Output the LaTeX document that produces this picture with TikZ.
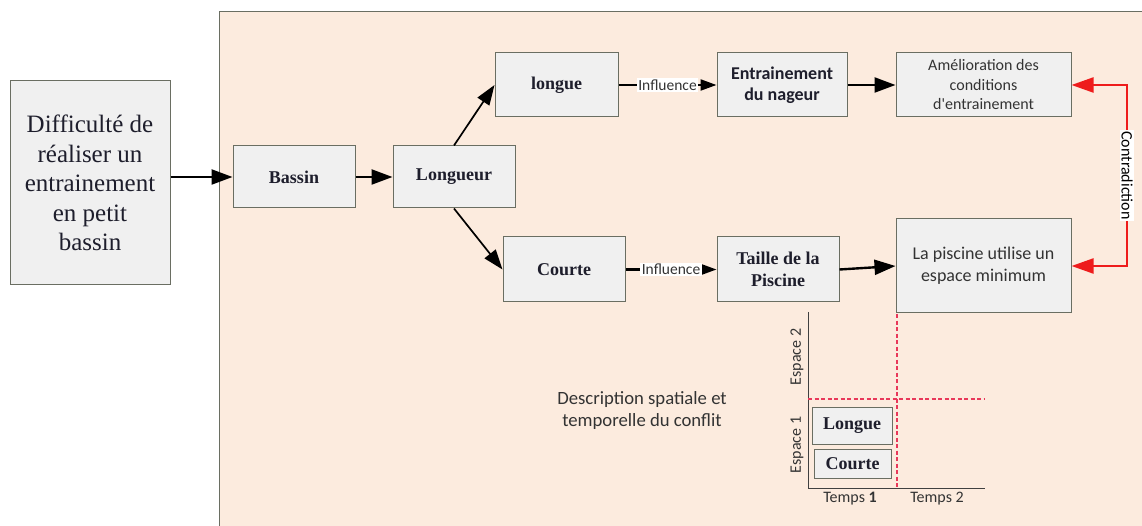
\documentclass[tikz,border=0pt]{standalone}
\usepackage{fontspec}
\setmainfont{Liberation Serif}
\newfontfamily\calib{Carlito}
\usetikzlibrary{arrows.meta}
\definecolor{peach}{HTML}{FCEBDE}
\definecolor{boxfill}{HTML}{F0F0F0}
\definecolor{boxline}{HTML}{6A6E62}
\definecolor{serifink}{HTML}{1E1E2C}
\definecolor{sansink}{HTML}{333333}
\definecolor{contra}{HTML}{EE1C1C}
\definecolor{dashred}{HTML}{E8385A}
\tikzset{
  box/.style={draw=boxline, fill=boxfill, line width=1pt, inner sep=2pt, align=center, text=serifink},
  sbold/.style={font=\fontsize{18}{22}\selectfont\bfseries},
  cbody/.style={font=\calib\fontsize{16}{19.5}\selectfont, text=sansink},
  flow/.style={line width=2.4pt, -{Triangle[length=21pt,width=15pt]}},
  branch/.style={line width=1.7pt, -{Triangle[length=20pt,width=14pt]}},
  infl/.style={line width=2.2pt, -{Triangle[length=16pt,width=11pt]}},
  infllabel/.style={fill=white, inner sep=1.5pt, font=\calib\fontsize{15.5}{18}\selectfont, text=sansink},
  contraline/.style={line width=2.2pt, draw=contra,
    {Triangle[length=22pt,width=15pt]}-{Triangle[length=22pt,width=15pt]}},
  axis/.style={line width=1pt, draw=black!75},
  grid/.style={line width=1.1pt, draw=dashred, dash pattern=on 4pt off 2.5pt},
}
\begin{document}
\begin{tikzpicture}[x=1pt, y=-1pt]
  \useasboundingbox (0,0) rectangle (1142,526);
  % backgrounds
  \fill[white] (0,0) rectangle (1142,526);
  \fill[peach] (219,12) rectangle (1142,526);
  \draw[boxline, line width=1pt] (219,526) -- (219,12) -- (1142,12);

  % left problem statement
  \node[box, minimum width=160pt, minimum height=204pt,
        font=\fontsize{25}{29.5}\selectfont] (diff) at (90,183)
        {Difficult\'e de\\r\'ealiser un\\entrainement\\en petit\\bassin};

  % main chain
  \node[box, sbold, minimum width=122pt, minimum height=62pt] (bassin) at (294,177) {Bassin};
  \node[box, sbold, minimum width=122pt, minimum height=62pt] (longueur) at (454,177) {Longueur};
  \node[box, sbold, minimum width=123pt, minimum height=64pt] (longue) at (556.5,85) {longue};
  \node[box, sbold, minimum width=122pt, minimum height=65pt] (courte) at (564,269.5) {Courte};
  \node[box, minimum width=130pt, minimum height=64pt,
        font=\calib\fontsize{18}{21}\selectfont\bfseries] (entr) at (782,85) {Entrainement\\du nageur};
  \node[box, sbold, minimum width=122pt, minimum height=65pt] (taille) at (778,269.5) {Taille de la\\Piscine};
  \node[box, cbody, minimum width=175pt, minimum height=64pt] (amel) at (983.5,85)
        {Am\'elioration des\\conditions\\d'entrainement};
  \node[box, cbody, font=\calib\fontsize{18}{22}\selectfont, minimum width=175pt, minimum height=94pt] (pisc) at (983.5,266)
        {La piscine utilise un\\espace minimum};

  % connectors
  \draw[flow] (diff.east |- bassin.west) -- (bassin.west);
  \draw[flow] (bassin.east) -- (longueur.west);
  \draw[branch] (longueur.north) -- (longue.west);
  \draw[branch] (longueur.south) -- (courte.west);
  \draw[infl] (longue.east) -- node[infllabel] {Influence} (entr.west);
  \draw[infl] (courte.east) -- node[infllabel] {Influence} (taille.west);
  \draw[flow] (entr.east) -- (amel.west);
  \draw[flow] (taille.east) -- (pisc.west);

  % contradiction link
  \coordinate (ct) at (1127,85);
  \coordinate (cb) at (1127,266);
  \draw[contraline] (amel.east) -- (ct)
     -- node[fill=white, inner sep=1pt, rotate=-90, font=\calib\fontsize{16}{18}\selectfont, text=black] {Contradiction} (cb)
     -- (pisc.east);

  % space-time chart
  \coordinate (ytop) at (808,312);
  \coordinate (orig) at (808,488);
  \coordinate (xend) at (985,488);
  \draw[axis] (ytop) -- (orig) -- (xend);
  \coordinate (vtop) at (897,314);
  \coordinate (vbot) at (897,488);
  \coordinate (hl) at (808,399);
  \coordinate (hr) at (985,399);
  \draw[grid] (vtop) -- (vbot);
  \draw[grid] (hl) -- (hr);
  \node[box, sbold, minimum width=80pt, minimum height=37pt] (slongue) at (852,425.5) {Longue};
  \node[box, sbold, minimum width=77pt, minimum height=29pt] (scourte) at (852.5,463.5) {Courte};
  \node[cbody, rotate=90] (esp2) at (797,357) {Espace 2};
  \node[cbody, rotate=90] (esp1) at (797,445) {Espace 1};
  \node[cbody] (t1) at (850,499) {Temps \textbf{1}};
  \node[cbody] (t2) at (937,499) {Temps 2};
  \node[cbody, font=\calib\fontsize{18.7}{22}\selectfont, align=center] (desc) at (642,411)
        {Description spatiale et\\temporelle du conflit};
\end{tikzpicture}
\end{document}
